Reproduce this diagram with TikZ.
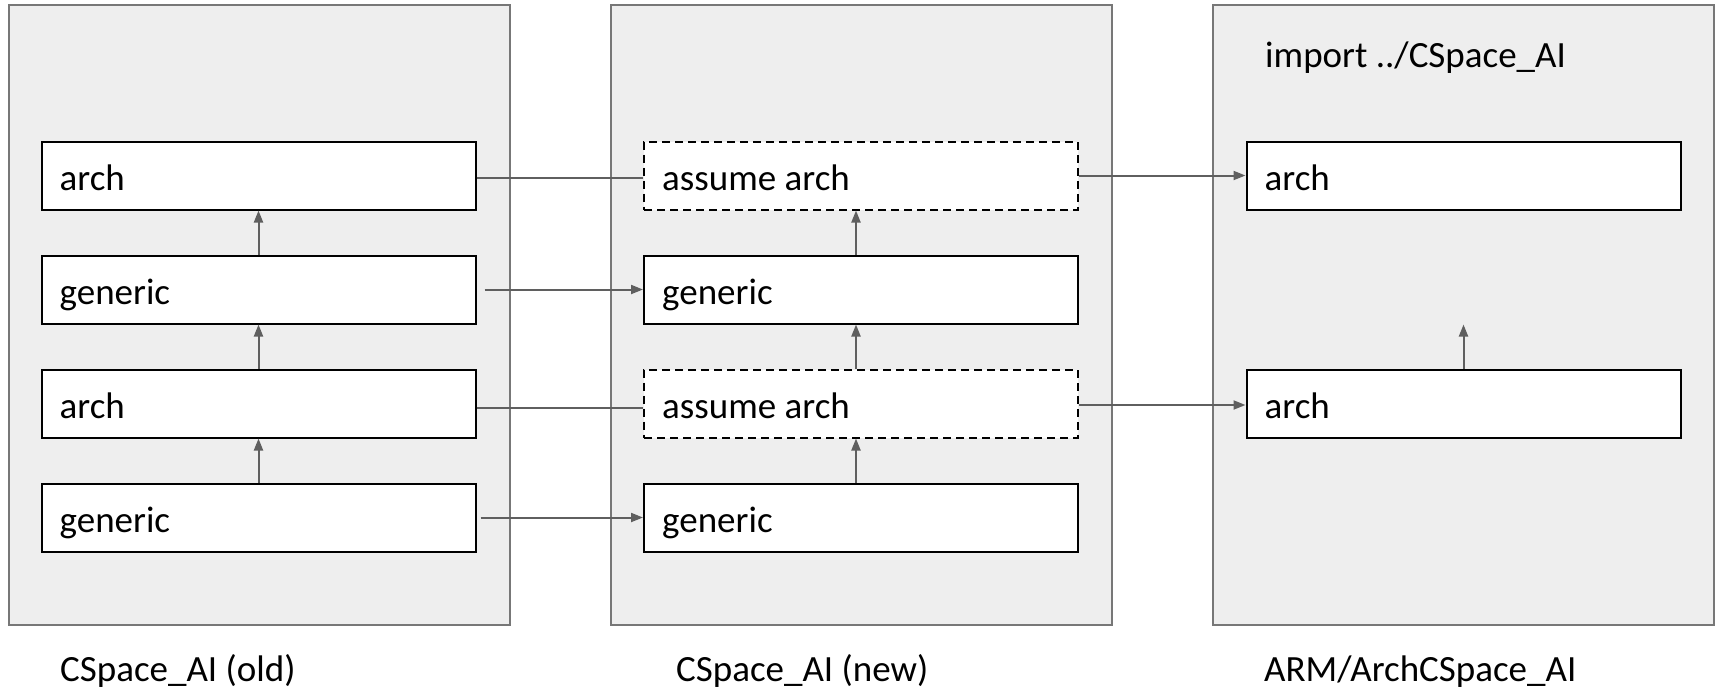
\documentclass[tikz,border=0pt]{standalone}
\usepackage{fontspec}
\setmainfont{Carlito}
\usetikzlibrary{arrows.meta,calc}

\definecolor{panelfill}{HTML}{EEEEEE}
\definecolor{paneledge}{HTML}{777777}
\definecolor{linkgray}{HTML}{5F5F5F}

\tikzset{
  panel/.style={draw=paneledge, line width=2pt, fill=panelfill},
  layerbox/.style={draw=black, line width=2pt, fill=white, rectangle,
    minimum width=434pt, minimum height=68pt, inner sep=0pt},
  assumebox/.style={layerbox, dashed, dash pattern=on 8pt off 5pt},
  txt/.style={font=\fontsize{37}{44}\selectfont, inner sep=0pt, anchor=base west},
  link/.style={draw=linkgray, line width=2pt},
  arr/.style={link, -{Triangle[length=12pt,width=9pt]}},
}

\begin{document}
\begin{tikzpicture}[x=1pt, y=-1pt]
  \useasboundingbox (0,0) rectangle (1719,691);

  % three packages
  \draw[panel] (8.5,4.5) rectangle (510,625);
  \draw[panel] (610.5,4.5) rectangle (1111.5,625);
  \draw[panel] (1212.5,4.5) rectangle (1713.5,625);

  % CSpace_AI (old)
  \node[layerbox] (l1) at (258.5,175.5) {};
  \node[layerbox] (l2) at (258.5,289.5) {};
  \node[layerbox] (l3) at (258.5,403.5) {};
  \node[layerbox] (l4) at (258.5,517.5) {};

  % CSpace_AI (new)
  \node[assumebox] (m1) at (861,175.5) {};
  \node[layerbox]  (m2) at (861,289.5) {};
  \node[assumebox] (m3) at (861,403.5) {};
  \node[layerbox]  (m4) at (861,517.5) {};

  % ARM/ArchCSpace_AI
  \node[layerbox] (r1) at (1463.5,175.5) {};
  \node[layerbox] (r3) at (1463.5,403.5) {};

  % box texts
  \foreach \b/\t in {l1/arch, l2/generic, l3/arch, l4/generic,
                     m1/assume arch, m2/generic, m3/assume arch, m4/generic,
                     r1/arch, r3/arch}{
    \node[txt] (\b t) at ([xshift=19pt,yshift=-14.5pt]\b.west) {\t};
  }

  \node[txt] (imp) at (1265,67.5) {import ../CSpace\_AI};

  % package names
  \node[txt] (nold) at (60,681) {CSpace\_AI (old)};
  \node[txt] (nnew) at (676,681) {CSpace\_AI (new)};
  \node[txt] (narm) at (1264,681) {ARM/ArchCSpace\_AI};

  % layering inside each package
  \foreach \lo/\hi in {l2/l1, l3/l2, l4/l3}{
    \draw[arr] (\lo.north) -- (\hi.south);
  }
  \foreach \lo/\hi in {m2/m1, m3/m2, m4/m3}{
    \draw[arr] ([xshift=-5pt]\lo.north) -- ([xshift=-5pt]\hi.south);
  }
  \coordinate (rtip) at ($(r3.north)+(0,-44)$);
  \draw[arr] (r3.north) -- (rtip);

  % old -> new
  \draw[link] ([yshift=-2.5pt]l1.east) -- ([yshift=-2.5pt]m1.west);
  \draw[arr]  ([xshift=8pt]l2.east) -- (m2.west);
  \draw[link] ([yshift=-4.5pt]l3.east) -- ([yshift=-4.5pt]m3.west);
  \draw[arr]  ([xshift=4pt]l4.east) -- (m4.west);

  % new -> arch-specific
  \draw[arr] (m1.east) -- (r1.west);
  \draw[arr] ([yshift=-1.5pt]m3.east) -- ([yshift=-1.5pt]r3.west);
\end{tikzpicture}
\end{document}
